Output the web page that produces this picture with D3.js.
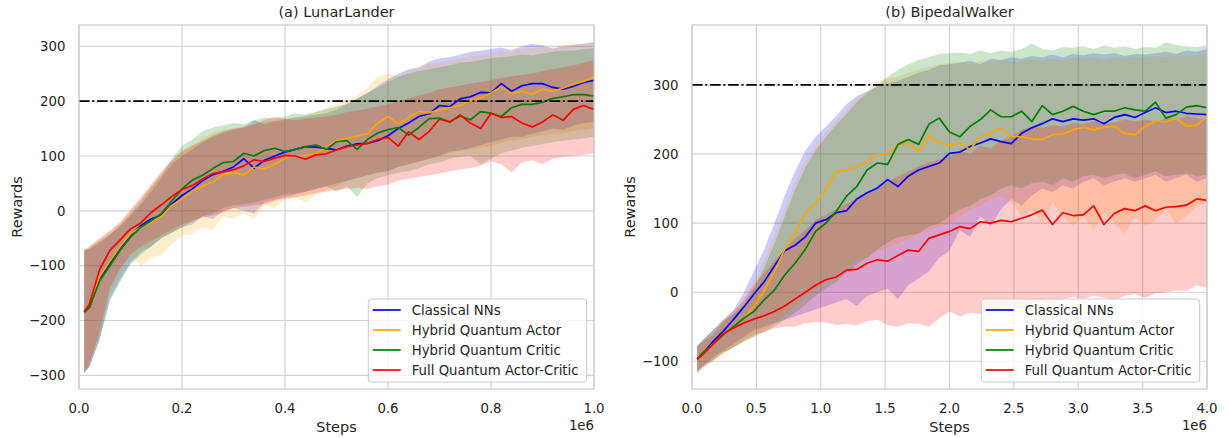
<!DOCTYPE html>
<html><head><meta charset="utf-8">
<script src="https://cdn.jsdelivr.net/npm/d3@7"></script>
<style>
body{margin:0;background:#fff}
svg{display:block}
text{font-family:"DejaVu Sans",sans-serif;fill:#262626}
</style>
</head><body>
<svg id="chart" width="1228" height="438"></svg>
<script>
// ---------- shared ----------
const seriesNames = ["Classical NNs","Hybrid Quantum Actor","Hybrid Quantum Critic","Full Quantum Actor-Critic"];
const seriesColors = ["blue","orange","green","red"];

// ---------- (a) LunarLander ----------
const lunarSteps = [0.01,0.02,0.04,0.06,0.08,0.10,0.12,0.14,0.16,0.18,0.20,0.22,0.24,0.26,0.28,0.30,0.32,0.34,0.36,0.38,0.40,0.42,0.44,0.46,0.48,0.50,0.52,0.54,0.56,0.58,0.60,0.62,0.64,0.66,0.68,0.70,0.72,0.74,0.76,0.78,0.80,0.82,0.84,0.86,0.88,0.90,0.92,0.94,0.96,0.98,1.00];
const lunarXTicks = [0,0.2,0.4,0.6,0.8,1.0];
const lunarYTicks = [-300,-200,-100,0,100,200,300];
const lunarThreshold = 200;

const lunarClassicalMean = [-185,-176,-125,-95,-68,-45,-27,-15,-8,12,28,40,55,66,72,80,95,78,92,100,107,112,117,116,114,111,118,122,123,128,137,150,160,172,177,192,190,204,208,216,215,232,218,228,232,232,225,222,227,234,238];
const lunarClassicalLow  = [-295,-285,-235,-160,-125,-95,-75,-65,-50,-40,-30,-25,-10,-15,0,5,0,-5,15,20,25,30,35,40,45,50,55,60,65,70,72,80,85,90,95,100,108,110,115,120,125,130,135,135,140,145,150,148,155,160,162];
const lunarClassicalHigh = [-72,-70,-58,-44,-28,-8,12,35,60,85,100,112,125,135,142,148,152,165,158,163,166,170,172,175,178,185,195,205,215,228,240,250,258,262,272,278,280,285,290,292,295,298,293,300,304,302,296,300,302,305,308];

const lunarActorMean = [-185,-172,-120,-92,-65,-42,-30,-22,-10,10,22,36,45,53,66,70,65,80,76,85,95,99,101,105,115,128,132,136,141,160,172,158,170,181,179,184,188,192,201,206,215,226,214,218,212,222,218,224,231,236,244];
const lunarActorLow  = [-295,-280,-225,-150,-115,-80,-100,-85,-80,-60,-45,-42,-30,-35,-10,-15,-5,-15,10,5,20,25,15,30,38,45,55,60,65,70,75,80,85,90,95,100,105,110,112,115,118,125,128,130,135,138,140,142,145,148,150];
const lunarActorHigh = [-72,-66,-52,-38,-22,0,22,45,68,90,110,120,132,142,148,150,155,158,162,165,168,170,175,180,188,195,200,210,225,245,250,245,255,260,268,270,275,278,282,285,288,292,290,295,298,298,300,302,305,304,306];

const lunarCriticMean = [-185,-176,-128,-100,-72,-48,-30,-18,-5,18,40,56,65,77,88,90,105,100,110,114,108,112,117,120,112,126,128,112,130,142,148,152,138,152,168,169,162,173,166,181,178,172,188,194,194,198,205,208,212,212,209];
const lunarCriticLow  = [-295,-285,-235,-165,-130,-98,-80,-65,-50,-40,-30,-20,-10,-5,5,10,12,15,20,25,30,32,35,40,45,35,45,25,50,60,65,70,72,78,85,88,95,98,100,85,95,105,110,115,118,122,125,128,130,132,135];
const lunarCriticHigh = [-72,-68,-55,-42,-26,-5,18,42,66,95,118,130,145,152,156,160,158,165,170,168,172,178,175,180,185,190,195,205,215,225,235,245,250,255,258,262,265,270,272,275,278,280,282,285,283,287,290,292,292,295,296];

const lunarFullMean = [-183,-171,-107,-72,-53,-33,-22,-3,11,26,39,46,58,68,71,75,82,93,90,96,101,100,94,102,104,111,117,120,123,130,134,118,144,130,145,167,162,175,160,150,178,170,172,160,153,162,175,165,185,192,185];
const lunarFullLow  = [-295,-280,-222,-140,-105,-80,-65,-55,-45,-35,-25,-18,-12,-8,-3,5,8,10,12,18,22,25,28,32,35,38,40,42,40,45,48,55,58,62,65,68,72,75,78,82,90,85,70,88,92,85,95,98,100,102,105];
const lunarFullHigh = [-72,-64,-50,-36,-20,2,25,48,72,92,108,118,128,138,145,150,152,158,165,172,168,165,168,170,172,175,180,183,186,190,195,200,205,210,215,222,225,228,232,235,238,242,245,248,250,255,258,262,265,270,275];

// ---------- (b) BipedalWalker ----------
const bipedalSteps = [0.04,0.08,0.16,0.24,0.32,0.40,0.48,0.56,0.64,0.72,0.80,0.88,0.96,1.04,1.12,1.20,1.28,1.36,1.44,1.52,1.60,1.68,1.76,1.84,1.92,2.00,2.08,2.16,2.24,2.32,2.40,2.48,2.56,2.64,2.72,2.80,2.88,2.96,3.04,3.12,3.20,3.28,3.36,3.44,3.52,3.60,3.68,3.76,3.84,3.92,4.00];
const bipedalXTicks = [0,0.5,1.0,1.5,2.0,2.5,3.0,3.5,4.0];
const bipedalYTicks = [-100,0,100,200,300];
const bipedalThreshold = 300;

const bipedalClassicalMean = [-97,-90,-72,-57,-40,-22,-3,15,38,60,68,80,100,105,115,118,135,144,151,163,153,168,177,182,187,201,203,211,216,222,218,215,230,238,244,251,247,251,249,251,244,253,257,253,260,267,260,262,259,258,257];
const bipedalClassicalLow  = [-115,-108,-95,-85,-75,-65,-55,-50,-45,-40,-35,-30,-25,-20,-15,-10,-20,-5,0,5,-10,10,20,30,50,60,90,80,110,95,120,135,125,140,150,145,155,150,160,165,155,160,165,160,165,170,160,165,170,160,165];
const bipedalClassicalHigh = [-78,-70,-55,-40,-26,-1,30,62,100,140,175,205,225,240,255,272,284,290,298,302,306,312,318,322,328,330,332,335,330,338,336,340,338,342,340,344,340,345,343,346,344,346,342,345,344,346,348,345,350,348,352];

const bipedalActorMean = [-97,-91,-76,-62,-50,-38,-21,2,30,62,86,114,129,149,175,177,182,189,199,201,213,216,204,227,216,213,216,206,226,230,238,226,225,222,221,228,229,235,239,235,239,240,230,228,240,248,246,252,240,242,254];
const bipedalActorLow  = [-115,-108,-100,-90,-80,-72,-65,-55,-45,-35,-20,-5,5,15,25,35,45,50,60,65,70,78,85,90,95,100,110,120,125,135,140,130,110,120,100,130,110,95,110,90,115,100,85,110,95,105,120,100,110,125,130];
const bipedalActorHigh = [-78,-71,-58,-45,-32,-10,15,45,82,122,158,190,212,232,248,263,282,292,305,310,312,318,322,326,330,332,334,330,335,332,336,333,335,338,336,338,335,340,338,340,337,340,338,341,340,342,340,343,341,343,345];

const bipedalCriticMean = [-97,-88,-76,-62,-50,-38,-28,-11,3,25,42,62,88,100,117,139,153,177,187,185,214,221,214,243,252,232,225,240,250,264,254,254,262,247,270,257,262,269,262,257,262,262,267,264,262,275,252,257,268,270,267];
const bipedalCriticLow  = [-115,-108,-98,-88,-80,-72,-65,-58,-50,-40,-30,-18,-5,5,15,28,40,50,62,72,80,82,85,95,100,110,120,125,135,140,150,155,150,158,160,155,165,160,168,170,165,170,172,165,170,175,168,170,172,168,170];
const bipedalCriticHigh = [-78,-70,-55,-42,-32,-18,5,35,70,110,148,180,205,225,242,258,275,288,300,312,322,330,336,340,345,346,347,345,350,346,350,348,352,360,352,350,355,354,356,352,357,354,356,352,355,354,362,358,356,355,358];

const bipedalFullMean = [-97,-91,-76,-60,-52,-45,-39,-34,-28,-20,-10,0,10,18,22,32,33,42,47,45,53,61,59,78,83,88,95,92,102,100,104,102,107,112,119,98,115,111,112,125,98,114,121,118,125,118,123,124,126,135,133];
const bipedalFullLow  = [-118,-110,-100,-88,-80,-70,-62,-58,-52,-50,-50,-45,-43,-44,-48,-46,-48,-42,-40,-48,-50,-45,-46,-50,-38,-28,-35,-30,-32,-28,-25,-22,-25,-15,-12,-18,-10,-7,-10,-5,-8,-12,-5,-3,-8,-2,0,3,2,10,6];
const bipedalFullHigh = [-78,-72,-62,-42,-28,-12,10,28,45,62,78,90,105,112,120,128,135,145,152,160,168,175,182,188,192,196,205,200,212,208,220,225,235,240,238,242,240,245,243,248,244,246,250,247,250,246,252,250,255,252,250];

// ---------- drawing ----------
const svg = d3.select("#chart");
const gridColor = "#d2d2d2";

function drawPanel(cfg) {
  const x = d3.scaleLinear().domain(cfg.xDomain).range([cfg.left, cfg.right]);
  const y = d3.scaleLinear().domain(cfg.yDomain).range([cfg.bottom, cfg.top]);
  const g = svg.append("g");
  const clipId = "clip-" + cfg.id;
  svg.append("clipPath").attr("id", clipId).append("rect")
    .attr("x", cfg.left).attr("y", cfg.top)
    .attr("width", cfg.right - cfg.left).attr("height", cfg.bottom - cfg.top);

  // grid
  g.append("g").selectAll("line").data(cfg.xTicks).join("line")
    .attr("x1", d => x(d)).attr("x2", d => x(d))
    .attr("y1", cfg.top).attr("y2", cfg.bottom)
    .attr("stroke", gridColor).attr("stroke-width", 1.1);
  g.append("g").selectAll("line").data(cfg.yTicks).join("line")
    .attr("y1", d => y(d)).attr("y2", d => y(d))
    .attr("x1", cfg.left).attr("x2", cfg.right)
    .attr("stroke", gridColor).attr("stroke-width", 1.1);

  const plot = g.append("g").attr("clip-path", `url(#${clipId})`);
  const area = d3.area().x(d => x(d.s)).y0(d => y(d.lo)).y1(d => y(d.hi));
  const line = d3.line().x(d => x(d.s)).y(d => y(d.m));

  const rows = cfg.series.map(sr => cfg.steps.map((s, i) => ({s, m: sr.mean[i], lo: sr.low[i], hi: sr.high[i]})));

  // bands (below lines)
  rows.forEach((r, k) => {
    plot.append("path").datum(r).attr("d", area)
      .attr("fill", seriesColors[k]).attr("fill-opacity", 0.2).attr("stroke", "none");
  });
  // mean lines
  rows.forEach((r, k) => {
    plot.append("path").datum(r).attr("d", line)
      .attr("fill", "none").attr("stroke", seriesColors[k]).attr("stroke-width", 1.7)
      .attr("stroke-linejoin", "round");
  });
  // threshold
  plot.append("line")
    .attr("x1", cfg.left).attr("x2", cfg.right)
    .attr("y1", y(cfg.threshold)).attr("y2", y(cfg.threshold))
    .attr("stroke", "black").attr("stroke-width", 1.8)
    .attr("stroke-dasharray", "10.5,2.8,2,2.8");

  // frame
  g.append("rect").attr("x", cfg.left).attr("y", cfg.top)
    .attr("width", cfg.right - cfg.left).attr("height", cfg.bottom - cfg.top)
    .attr("fill", "none").attr("stroke", "#cccccc").attr("stroke-width", 1.25);

  // tick labels
  g.append("g").selectAll("text").data(cfg.xTicks).join("text")
    .attr("x", d => x(d)).attr("y", cfg.bottom + 24)
    .attr("text-anchor", "middle").attr("font-size", "13.3px")
    .text(d => d3.format(".1f")(d));
  g.append("g").selectAll("text").data(cfg.yTicks).join("text")
    .attr("x", cfg.left - 13.5).attr("y", d => y(d)).attr("dy", "0.36em")
    .attr("text-anchor", "end").attr("font-size", "13.3px")
    .text(d => d3.format("d")(d));

  // labels
  g.append("text").attr("x", (cfg.left + cfg.right) / 2).attr("y", 17)
    .attr("text-anchor", "middle").attr("font-size", "14.5px").text(cfg.title);
  g.append("text").attr("x", (cfg.left + cfg.right) / 2).attr("y", cfg.bottom + 43)
    .attr("text-anchor", "middle").attr("font-size", "14.5px").text("Steps");
  g.append("text").attr("x", cfg.right).attr("y", cfg.bottom + 41)
    .attr("text-anchor", "end").attr("font-size", "13.3px").text("1e6");
  g.append("text")
    .attr("transform", `translate(${cfg.left - 57.5},${(cfg.top + cfg.bottom) / 2}) rotate(-90)`)
    .attr("text-anchor", "middle").attr("font-size", "14.5px").text("Rewards");

  // legend
  const lw = 218.4, lh = 83;
  const lx = cfg.right - 7.3 - lw, ly = cfg.bottom - 7 - lh;
  const leg = g.append("g");
  leg.append("rect").attr("x", lx).attr("y", ly).attr("width", lw).attr("height", lh)
    .attr("rx", 3).attr("fill", "white").attr("fill-opacity", 0.8)
    .attr("stroke", "#cccccc").attr("stroke-width", 1);
  seriesNames.forEach((name, k) => {
    const yy = ly + 11 + 20 * k;
    leg.append("line").attr("x1", lx + 4.4).attr("x2", lx + 32.4)
      .attr("y1", yy).attr("y2", yy)
      .attr("stroke", seriesColors[k]).attr("stroke-width", 1.7);
    leg.append("text").attr("x", lx + 43.4).attr("y", yy).attr("dy", "0.36em")
      .attr("font-size", "13.3px").text(name);
  });
}

drawPanel({
  id: "lunar", title: "(a) LunarLander",
  left: 79, right: 594, top: 25, bottom: 389,
  xDomain: [0, 1], yDomain: [-324.8, 338.8],
  xTicks: lunarXTicks, yTicks: lunarYTicks, threshold: lunarThreshold,
  steps: lunarSteps,
  series: [
    {mean: lunarClassicalMean, low: lunarClassicalLow, high: lunarClassicalHigh},
    {mean: lunarActorMean, low: lunarActorLow, high: lunarActorHigh},
    {mean: lunarCriticMean, low: lunarCriticLow, high: lunarCriticHigh},
    {mean: lunarFullMean, low: lunarFullLow, high: lunarFullHigh}
  ]
});

drawPanel({
  id: "bipedal", title: "(b) BipedalWalker",
  left: 692, right: 1207, top: 25, bottom: 389,
  xDomain: [0, 4], yDomain: [-140.1, 386.8],
  xTicks: bipedalXTicks, yTicks: bipedalYTicks, threshold: bipedalThreshold,
  steps: bipedalSteps,
  series: [
    {mean: bipedalClassicalMean, low: bipedalClassicalLow, high: bipedalClassicalHigh},
    {mean: bipedalActorMean, low: bipedalActorLow, high: bipedalActorHigh},
    {mean: bipedalCriticMean, low: bipedalCriticLow, high: bipedalCriticHigh},
    {mean: bipedalFullMean, low: bipedalFullLow, high: bipedalFullHigh}
  ]
});
</script>
</body></html>
